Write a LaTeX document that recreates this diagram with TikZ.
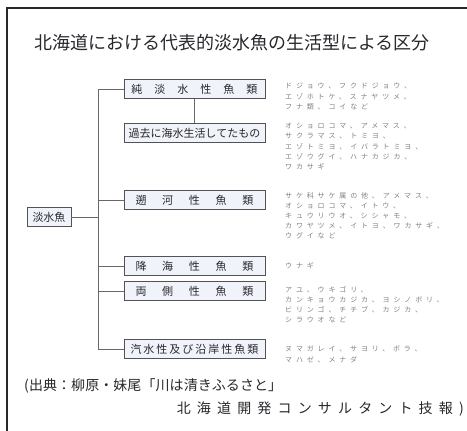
\documentclass[tikz,border=0pt]{standalone}
\usepackage{fontspec}
\setmainfont{Noto Sans CJK JP}
\definecolor{boxfill}{RGB}{240,244,250}
\definecolor{ink}{RGB}{40,40,45}
\begin{document}
\begin{tikzpicture}[x=1pt,y=-1pt,
  cat/.style={draw=ink!80, line width=0.8pt, minimum height=19pt, inner sep=0pt, fill=boxfill, text=ink, font=\fontsize{11}{11}\selectfont},
  sp/.style={anchor=north west, align=left, inner sep=0pt, text=black!50, font=\fontsize{7}{10.2}\selectfont\addfontfeature{LetterSpace=55}},
  link/.style={draw=ink!70, line width=0.6pt}]
\useasboundingbox (0,0) rectangle (467,431);
\draw[line width=1.1pt, ink] (7,431) -- (7,8) -- (467,8);
\node[text=ink, font=\fontsize{18}{18}\selectfont] (title) at (232,43) {北海道における代表的淡水魚の生活型による区分};

\node[cat, minimum width=44pt] (root) at (49,217) {淡水魚};
\node[cat, minimum width=141pt] (b1) at (194.5,89) {\makebox[126pt]{純\hfill 淡\hfill 水\hfill 性\hfill 魚\hfill 類}};
\node[cat, minimum width=141pt] (b2) at (194.5,133) {\makebox[132pt]{過\hfill 去\hfill に\hfill 海\hfill 水\hfill 生\hfill 活\hfill し\hfill て\hfill た\hfill も\hfill の}};
\node[cat, minimum width=141pt] (b3) at (194.5,200) {\makebox[118pt]{遡\hfill 河\hfill 性\hfill 魚\hfill 類}};
\node[cat, minimum width=141pt] (b4) at (194.5,266) {\makebox[118pt]{降\hfill 海\hfill 性\hfill 魚\hfill 類}};
\node[cat, minimum width=141pt] (b5) at (194.5,291) {\makebox[118pt]{両\hfill 側\hfill 性\hfill 魚\hfill 類}};
\node[cat, minimum width=141pt] (b6) at (194.5,349) {\makebox[128pt]{汽\hfill 水\hfill 性\hfill 及\hfill び\hfill 沿\hfill 岸\hfill 性\hfill 魚\hfill 類}};

\coordinate (trunk) at (98,0);
\draw[link] (b1.west) -- (b1.west -| trunk) -- (b6.west -| trunk) -- (b6.west);
\draw[link] (root.east) -- (root.east -| trunk);
\draw[link] (b3.west) -- (b3.west -| trunk);
\draw[link] (b4.west) -- (b4.west -| trunk);
\draw[link] (b5.west) -- (b5.west -| trunk);
\draw[link] (b1.south) -- (b2.north);

\node[sp] (t1) at (285,83) {ドジョウ、フクドジョウ、\\エゾホトケ、スナヤツメ、\\フナ類、コイなど};
\node[sp] (t2) at (285,123) {オショロコマ、アメマス、\\サクラマス、トミヨ、\\エゾトミヨ、イバラトミヨ、\\エゾウグイ、ハナカジカ、\\ワカサギ};
\node[sp] (t3) at (285,192) {サケ科サケ属の他、アメマス、\\オショロコマ、イトウ、\\キュウリウオ、シシャモ、\\カワヤツメ、イトヨ、ワカサギ、\\ウグイなど};
\node[sp] (t4) at (285,262) {ウナギ};
\node[sp] (t5) at (285,286) {アユ、ウキゴリ、\\カンキョウカジカ、ヨシノボリ、\\ビリンゴ、チチブ、カジカ、\\シラウオなど};
\node[sp] (t6) at (285,346) {ヌマガレイ、サヨリ、ボラ、\\マハゼ、メナダ};

\node[anchor=west, inner sep=0pt, text=ink, font=\fontsize{14}{14}\selectfont] (c1) at (24,386) {\makebox[258pt]{(\hfill 出\hfill 典\hfill ：\hfill 柳\hfill 原\hfill ・\hfill 妹\hfill 尾\hfill 「\hfill 川\hfill は\hfill 清\hfill き\hfill ふ\hfill る\hfill さ\hfill と\hfill 」}};
\node[anchor=east, inner sep=0pt, text=ink, font=\fontsize{14}{14}\selectfont] (c2) at (464,409) {\makebox[287pt]{北\hfill 海\hfill 道\hfill 開\hfill 発\hfill コ\hfill ン\hfill サ\hfill ル\hfill タ\hfill ン\hfill ト\hfill 技\hfill 報\hfill )}};
\end{tikzpicture}
\end{document}
